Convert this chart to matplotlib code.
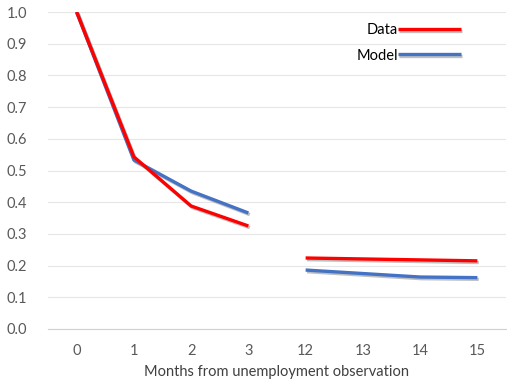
import numpy as np
import matplotlib.pyplot as plt
import matplotlib.patheffects as pe

months = ['0', '1', '2', '3', '12', '13', '14', '15']
data_vals = [1.0, 0.543, 0.388, 0.325, 0.224, 0.221, 0.218, 0.215]
model_vals = [1.0, 0.533, 0.435, 0.366, 0.186, 0.175, 0.164, 0.162]
segments = [(0, 4), (4, 8)]  # line breaks between month 3 and month 12

plt.rcParams['font.family'] = ['Lato', 'DejaVu Sans']

fig = plt.figure(figsize=(5.07, 3.83), dpi=100)
ax = fig.add_axes([48 / 507, 1 - 329 / 383, 458 / 507, 317 / 383])

x = np.arange(len(months))
shadow = [pe.SimpleLineShadow(offset=(1, -1.2), shadow_color='gray', alpha=0.5), pe.Normal()]

for label, vals, color, z in [('Model', model_vals, '#4472C4', 2), ('Data', data_vals, '#FF0000', 3)]:
    for k, (a, b) in enumerate(segments):
        ax.plot(x[a:b], vals[a:b], color=color, linewidth=2.4, solid_capstyle='butt',
                path_effects=shadow, zorder=z, label=label if k == 0 else '_nolegend_')

ax.set_xlim(-0.5, len(months) - 0.5)
ax.set_ylim(0, 1.0)
ax.set_xticks(x)
ax.set_xticklabels(months)
ax.set_yticks(np.arange(0, 1.01, 0.1))
ax.set_yticklabels([f'{v:.1f}' for v in np.arange(0, 1.01, 0.1)])
ax.tick_params(length=0, labelsize=10.5, colors='#595959', pad=11)
ax.tick_params(axis='y', pad=15)
ax.grid(axis='y', color='#e6e6e6', linewidth=0.8)
ax.set_axisbelow(True)
for s in ['top', 'right', 'left']:
    ax.spines[s].set_visible(False)
ax.spines['bottom'].set_color('#d0d0d0')
ax.set_xlabel('Months from unemployment observation', fontsize=10.5, color='#404040', labelpad=5)

handles, labels = ax.get_legend_handles_labels()
order = [labels.index('Data'), labels.index('Model')]
leg = ax.legend([handles[i] for i in order], [labels[i] for i in order],
                loc='upper right', bbox_to_anchor=(0.93, 1.006), markerfirst=False,
                frameon=False, fontsize=10.5, handlelength=4.3, handletextpad=0.0,
                labelspacing=0.78)

fig.savefig('out.png', dpi=100)
